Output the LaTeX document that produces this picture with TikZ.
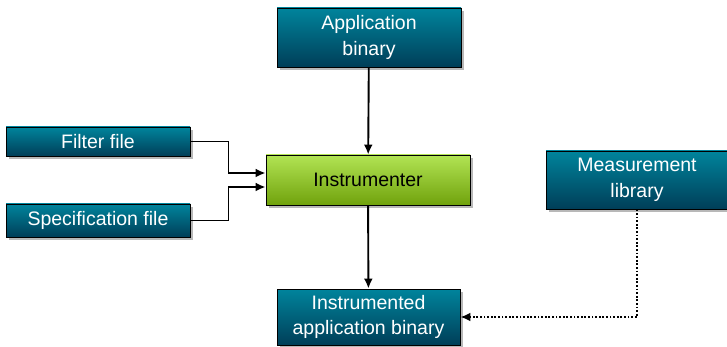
\documentclass[tikz,border=0pt]{standalone}
\usepackage{fontspec}
\setmainfont{Liberation Sans}
\usepackage{xcolor}
\usepackage{tikz}
\usetikzlibrary{arrows.meta, positioning, shadows}

\definecolor{tealtop}{RGB}{0,132,156}
\definecolor{tealbot}{RGB}{0,62,88}
\definecolor{greentop}{RGB}{178,228,84}
\definecolor{greenbot}{RGB}{112,162,12}

\begin{document}
\begin{tikzpicture}[
  x=1pt, y=-1pt,
  every node/.style={font=\fontsize{19.5}{25.5}\selectfont},
  block/.style    = {rectangle, draw=black, line width=0.9pt, top color=tealtop, bottom color=tealbot, text=white, align=center, inner sep=0pt,
                     drop shadow={shadow xshift=3pt, shadow yshift=-3pt, fill=black!35, opacity=0.8}},
  mainblock/.style= {block, top color=greentop, bottom color=greenbot, text=black},
  arrow/.style    = {-{Latex[length=10pt, width=9pt]}, line width=1.9pt},
  dotarrow/.style = {arrow, dash pattern=on 1.8pt off 1.8pt}
]
\useasboundingbox (0,0) rectangle (727,347);

%% INPUTS
\node[block, minimum width=184pt, minimum height=59pt] (app)    at (369, 37.5) {Application\\binary};
\node[block, minimum width=184pt, minimum height=29pt] (filter) at (98, 141.5) {Filter file};
\node[block, minimum width=184pt, minimum height=33pt] (spec)   at (98, 220.5) {Specification file};

%% TOOL AND OUTPUT
\node[mainblock, minimum width=204pt, minimum height=50pt] (instr) at (368, 180) {Instrumenter};
\node[block, minimum width=182pt, minimum height=58pt] (meas)  at (637, 180) {Measurement\\library};
\node[block, minimum width=183pt, minimum height=56pt] (instd) at (368.5, 317) {Instrumented\\application binary};

%% Arrows
\draw[arrow] (app) -- (instr);
\draw[arrow] (filter.east) -- ++(38,0) |- ([yshift=7pt]instr.west);
\draw[arrow] (spec.east) -- ++(38,0) |- ([yshift=-7pt]instr.west);
\draw[arrow] (instr) -- (instd);
\draw[dotarrow] (meas.south) |- (instd.east);
\end{tikzpicture}
\end{document}
